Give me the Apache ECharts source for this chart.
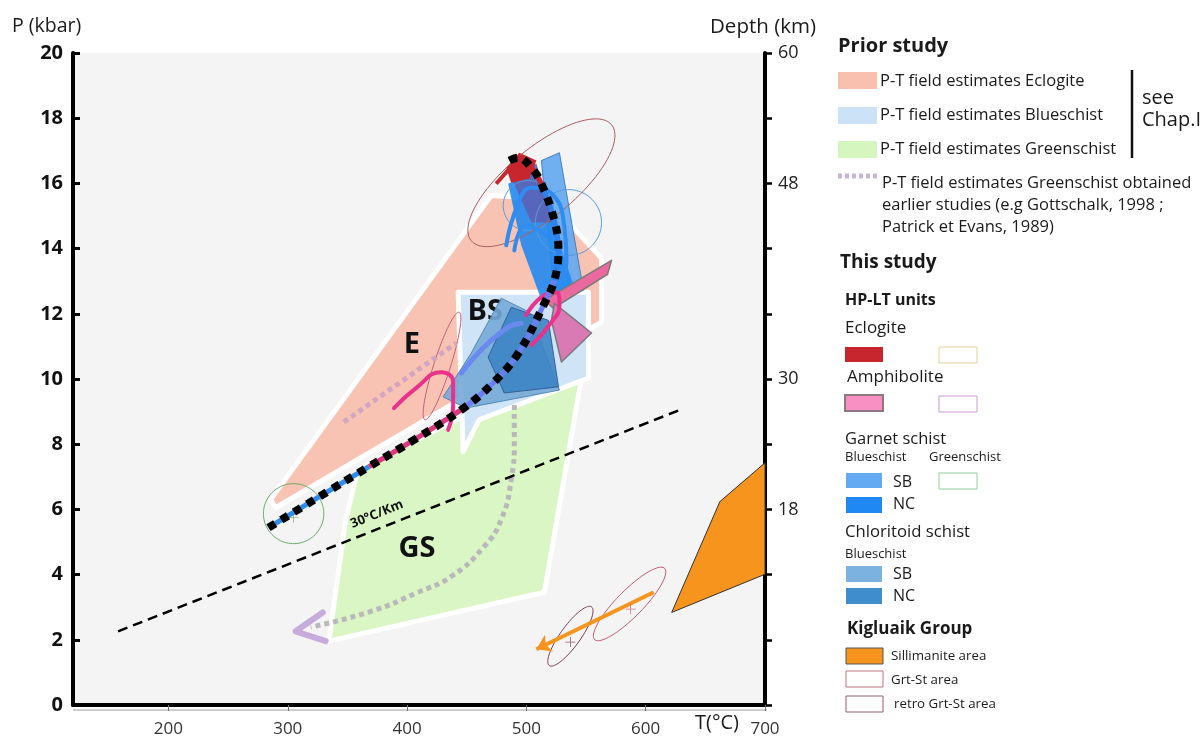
<!DOCTYPE html>
<html>
<head>
<meta charset="utf-8">
<title>P-T diagram</title>
<script src="https://cdn.jsdelivr.net/npm/echarts@6/dist/echarts.min.js"></script>
<style>
  html, body { margin: 0; padding: 0; background: #fff; }
  #chart { width: 1202px; height: 736px; }
</style>
</head>
<body>
<div id="chart"></div>
<script>
// axes
const tempTicks = [200, 300, 400, 500, 600, 700];
const depthLabels = [18, 30, 48, 60];

// prior study fields [T (°C), P (kbar)]
const eclogiteField = [[285.6, 6.30], [470.5, 15.63], [516.8, 15.53], [563.0, 13.70], [563.0, 11.74], [441.1, 9.30], [289.8, 6.05]];
const greenschistField = [[358.7, 7.22], [449.5, 8.90], [546.2, 10.03], [515.1, 3.46], [334.4, 1.96], [348.6, 5.69]];
const blueschistField = [[442.8, 12.66], [552.1, 12.66], [552.1, 10.03], [460.4, 8.75], [447.0, 7.77]];
const priorEclogitePath = [[347.0, 8.68], [441.1, 11.10]];
const priorGreenschistPath = [[489.9, 9.20], [489.9, 8.13], [487.3, 6.91], [478.9, 5.69], [464.6, 4.86], [436.9, 3.94], [409.2, 3.46], [369.7, 2.87], [319.2, 2.39]];
const priorArrowHead = [[329.3, 2.84], [306.6, 2.26], [331.8, 1.96]];

// 30 °C/km geotherm
const geotherm = [[157.8, 2.26], [628.6, 9.05]];

// this study
const chloritoidSB = [[478.9, 12.48], [502.5, 12.05], [527.7, 9.66], [449.5, 9.11], [430.2, 9.45], [453.7, 10.79]];
const chloritoidNC = [[487.3, 12.20], [518.4, 11.80], [526.9, 9.76], [481.5, 9.57], [468.0, 10.67]];
const garnetSB = [[512.6, 16.70], [527.7, 16.94], [547.9, 12.72], [523.5, 12.42]];
const garnetNC = [[484.8, 15.99], [508.4, 16.39], [539.5, 12.87], [512.6, 12.42], [495.7, 14.10]];
const garnetOverlap = [[485.7, 16.33], [508.4, 16.60], [523.5, 14.80], [504.2, 14.80]];
const eclogitePeak = [[483.1, 16.48], [494.1, 16.94], [508.4, 16.70], [502.5, 16.15], [487.3, 16.02]];
const eclogiteTail = [[474.7, 15.99], [485.7, 16.45]];
const amphiboliteBand = [[515.1, 12.42], [571.4, 13.64], [568.0, 13.21], [522.6, 12.17]];
const amphiboliteKite = [[523.5, 12.32], [554.6, 11.41], [529.4, 10.52], [521.0, 11.80]];
const amphHookE = [[389.0, 9.11], [407.5, 9.72], [428.5, 10.21], [438.6, 9.91], [438.6, 9.20], [434.4, 8.44]];
const amphHookBS = [[499.9, 11.96], [512.6, 12.51], [525.2, 12.66], [527.7, 12.26], [521.0, 11.74], [504.2, 11.04]];
const garnetPathA = [[483.1, 14.10], [493.2, 15.38], [504.2, 15.87], [521.0, 15.69], [531.9, 14.65], [533.6, 13.64], [526.9, 12.81]];
const garnetPathB = [[489.9, 13.94], [499.9, 14.71], [516.8, 14.40]];
const garnetPathBS = [[445.3, 10.18], [464.6, 10.98], [484.8, 11.59], [495.7, 11.71]];
const mainPath = [[283.9, 5.44], [325.1, 6.36], [368.0, 7.31], [405.8, 8.13], [445.3, 9.05], [470.5, 9.82], [493.2, 10.79], [515.1, 12.32], [523.5, 13.03], [526.9, 13.94], [523.5, 14.86], [512.6, 15.99], [504.2, 16.48], [493.2, 16.79], [485.7, 16.70]];

// ellipses: [centre T, centre P, axis-1 end T, P, axis-2 end T, P]
const ellipseTop = [512.6, 16.02, 571.4, 17.80, 531.1, 15.20];
const ellipseE = [429.3, 10.40, 443.6, 12.05, 436.1, 10.34];
const ellipseRetro = [536.9, 2.11, 554.6, 3.01, 543.7, 1.93];
const ellipseGrtSt = [586.5, 3.10, 615.9, 4.19, 594.1, 2.81];
const circleGreen = [304.9, 5.87, 330.2, 5.87, 304.9, 6.79];
const circleBlue1 = [535.3, 14.80, 563.0, 14.80, 535.3, 15.81];
const circleBlue2 = [501.6, 15.32, 522.6, 15.32, 501.6, 16.09];
const crossesRetro = [[536.9, 1.93]];
const crossesGrtSt = [[587.4, 2.94]];
const crossesGreen = [[304.9, 5.75]];

// Kigluaik group
const sillimanite = [[621.8, 2.84], [662.2, 6.24], [700, 7.43], [700, 4.01]];
const kigluaikPath = [[606.7, 3.46], [508.4, 1.71]];

// field labels [text, T, P]
const fieldLabels = [['E', 404.1, 11.04], ['BS', 465.5, 12.05], ['GS', 408.3, 4.80]];
const geothermLabel = [['30°C/Km', 374.7, 5.85]];

const FONT = '"Open Sans", "Noto Sans", sans-serif';

function area(pts, fill, stroke, width, opacity) {
  return {
    type: 'custom', silent: true, data: [pts[0]],
    renderItem: function (params, api) {
      return {
        type: 'polygon',
        shape: { points: pts.map(function (p) { return api.coord(p); }) },
        style: { fill: fill, stroke: stroke || 'none', lineWidth: width || 0, opacity: opacity == null ? 1 : opacity, lineJoin: 'round' }
      };
    }
  };
}

function ring(e, color, width) {
  return {
    type: 'custom', silent: true, data: [[e[0], e[1]]],
    renderItem: function (params, api) {
      const c = api.coord([e[0], e[1]]), a = api.coord([e[2], e[3]]), b = api.coord([e[4], e[5]]);
      const pts = [];
      for (let i = 0; i < 90; i++) {
        const t = i / 90 * Math.PI * 2;
        pts.push([c[0] + Math.cos(t) * (a[0] - c[0]) + Math.sin(t) * (b[0] - c[0]),
                  c[1] + Math.cos(t) * (a[1] - c[1]) + Math.sin(t) * (b[1] - c[1])]);
      }
      return { type: 'polygon', shape: { points: pts }, style: { fill: 'none', stroke: color, lineWidth: width } };
    }
  };
}

function path(pts, color, width, dash, smooth, cap) {
  return {
    type: 'line', data: pts, symbol: 'none', showSymbol: false, silent: true, smooth: smooth || false,
    lineStyle: { color: color, width: width, type: dash || 'solid', cap: cap || 'butt', join: 'round' }
  };
}

function labels(list, font, color, rotation) {
  return {
    type: 'custom', silent: true, data: list.map(function (l) { return [l[1], l[2]]; }),
    renderItem: function (params, api) {
      const l = list[params.dataIndex];
      const p = api.coord([l[1], l[2]]);
      return {
        type: 'text', x: p[0], y: p[1], rotation: rotation || 0,
        style: { text: l[0], font: font, fill: color, align: 'center', verticalAlign: 'middle', textAlign: 'center', textVerticalAlign: 'middle' }
      };
    }
  };
}

function crosses(pts, color) {
  return {
    type: 'scatter', data: pts, silent: true, symbolSize: 10,
    symbol: 'path://M4.6,0h0.8v10h-0.8zM0,4.6h10v0.8h-10z',
    itemStyle: { color: color }
  };
}

function txt(x, y, s, font, color) {
  return { type: 'text', x: x, y: y, silent: true,
    style: { text: s, font: font + ' ' + FONT, fill: color || '#1a1a1a', verticalAlign: 'middle', textVerticalAlign: 'middle' } };
}
function box(x, y, w, h, fill, stroke, lw) {
  return { type: 'rect', silent: true, shape: { x: x, y: y, width: w, height: h },
    style: { fill: fill, stroke: stroke || 'none', lineWidth: lw || 0 } };
}

const legend = [
  txt(838, 46, 'Prior study', 'bold 20px'),
  box(838, 72, 39, 17, '#f9c0b0'), txt(880, 81, 'P-T field estimates Eclogite', '16.5px'),
  box(838, 107, 39, 17, '#cce3f7'), txt(880, 115, 'P-T field estimates Blueschist', '16.5px'),
  box(838, 141, 39, 17, '#d6f6c0'), txt(880, 149, 'P-T field estimates Greenschist', '16.5px'),
  { type: 'line', silent: true, shape: { x1: 1132, y1: 70, x2: 1132, y2: 158 }, style: { stroke: '#111', lineWidth: 2.5 } },
  txt(1142, 98, 'see', '20px'), txt(1142, 120, 'Chap.I', '20px'),
  { type: 'line', silent: true, shape: { x1: 838, y1: 176, x2: 877, y2: 176 }, style: { stroke: '#cdb3de', lineWidth: 5, lineDash: [4, 3] } },
  txt(882, 183, 'P-T field estimates Greenschist obtained', '16.5px'),
  txt(882, 205, 'earlier studies (e.g Gottschalk, 1998 ;', '16.5px'),
  txt(882, 227, 'Patrick et Evans, 1989)', '16.5px'),
  txt(840, 263, 'This study', 'bold 19px'),
  txt(845, 300, 'HP-LT units', 'bold 16px'),
  txt(845, 328, 'Eclogite', '17px'),
  box(845, 347, 38, 15, '#c8262e'), box(939, 347, 38, 16, '#fff', '#e6cf98', 1),
  txt(847, 377, 'Amphibolite', '17px'),
  box(845, 395, 38, 16, '#f890c4', '#8a7a80', 2), box(939, 396, 38, 16, '#fff', '#c99ad0', 1),
  txt(845, 439, 'Garnet schist', '16.5px'),
  txt(845, 457, 'Blueschist', '13px'), txt(929, 457, 'Greenschist', '13px'),
  box(846, 473, 36, 15, '#64aaf2'), txt(893, 482, 'SB', '16px'), box(939, 473, 38, 16, '#fff', '#90d09c', 1),
  box(846, 497, 36, 16, '#1f88f2'), txt(893, 504, 'NC', '16px'),
  txt(845, 532, 'Chloritoid schist', '16.7px'),
  txt(845, 554, 'Blueschist', '13px'),
  box(846, 566, 36, 16, '#7cb2e0'), txt(893, 574, 'SB', '16px'),
  box(846, 588, 36, 16, '#3f8dcc'), txt(893, 596, 'NC', '16px'),
  txt(847, 629, 'Kigluaik Group', 'bold 17px'),
  box(846, 648, 37, 16, '#f7941d', '#555', 1), txt(891, 656, 'Sillimanite area', '13.3px'),
  box(846, 671, 37, 16, '#fff', '#c07474', 1), txt(891, 680, 'Grt-St area', '13.3px'),
  box(846, 696, 37, 16, '#fff', '#a05a6a', 1), txt(894, 704, 'retro Grt-St area', '13.3px'),
  // axis titles
  txt(12, 26, 'P (kbar)', '19.5px'),
  txt(710, 27, 'Depth (km)', '20.5px'),
  txt(695, 723, 'T(°C)', '20px'),
  { type: 'line', silent: true, shape: { x1: 73, y1: 710, x2: 767, y2: 710 }, style: { stroke: '#999', lineWidth: 1 } }
];

const chart = echarts.init(document.getElementById('chart'));
chart.setOption({
  animation: false,
  backgroundColor: '#fff',
  grid: { left: 73, right: 437, top: 53, bottom: 31, show: true, backgroundColor: '#f4f4f4', borderWidth: 0, containLabel: false, outerBoundsMode: 'none' },
  xAxis: {
    type: 'value', min: 120, max: 700,
    axisLine: { show: true, lineStyle: { color: '#000', width: 4 } },
    axisTick: { show: true, customValues: tempTicks, length: 6, lineStyle: { color: '#777', width: 1 } },
    axisLabel: { customValues: tempTicks, fontSize: 17, color: '#333', margin: 16, fontFamily: FONT },
    splitLine: { show: false }
  },
  yAxis: [{
    type: 'value', min: 0, max: 20, interval: 2, position: 'left',
    axisLine: { show: true, lineStyle: { color: '#000', width: 4 } },
    axisTick: { show: true, inside: true, length: 7, lineStyle: { color: '#000', width: 3 } },
    axisLabel: { fontSize: 20, fontWeight: 'bold', color: '#111', margin: 10, fontFamily: FONT },
    splitLine: { show: false }
  }, {
    type: 'value', min: 0, max: 60, interval: 6, position: 'right',
    axisLine: { show: true, lineStyle: { color: '#000', width: 4 } },
    axisTick: { show: true, length: 7, lineStyle: { color: '#000', width: 2.5 } },
    axisLabel: { fontSize: 18, color: '#222', margin: 13, fontFamily: FONT,
      formatter: function (v) { return depthLabels.indexOf(v) >= 0 ? String(v) : ''; } },
    splitLine: { show: false }
  }],
  graphic: legend,
  series: [
    area(eclogiteField, '#f9c3b3', '#fff', 5),
    area(greenschistField, '#d9f6c4', '#fff', 5),
    area(blueschistField, '#cfe4f6', '#fff', 5),
    path(priorEclogitePath, '#d2a6c2', 5, [5, 4]),
    path(priorGreenschistPath, '#b9b9b9', 5, [5, 4], 0.5),
    path(priorArrowHead, '#c6acdc', 6, 'solid', false, 'round'),
    path(geotherm, '#000', 2.5, [10, 6]),
    labels(fieldLabels, 'bold 29px ' + FONT, '#111'),
    area(chloritoidSB, '#74aad8', '#4d7fae', 1, 0.9),
    area(chloritoidNC, '#3d84c4', '#2c5d8f', 1, 0.9),
    ring(ellipseE, '#c0607a', 1),
    area(garnetSB, '#62a8ef', '#3f78b8', 1, 0.9),
    area(garnetNC, '#2289f0', 'none', 0, 0.9),
    area(garnetOverlap, '#5b62b5', 'none', 0, 0.9),
    ring(circleBlue1, '#5a9ad8', 1),
    ring(circleBlue2, '#5a9ad8', 1),
    area(eclogitePeak, '#c8262e'),
    path(eclogiteTail, '#c8262e', 4),
    ring(ellipseTop, '#a86060', 1),
    area(amphiboliteBand, '#ea6aa0', '#7a7a7a', 1.5),
    area(amphiboliteKite, '#d97ab5', '#7a7a7a', 1.5),
    path(amphHookE, '#e8328c', 4, 'solid', 0.5, 'round'),
    path(amphHookBS, '#e8328c', 4, 'solid', 0.5, 'round'),
    path(garnetPathA, '#2f8cf0', 4, 'solid', 0.5, 'round'),
    path(garnetPathB, '#2f8cf0', 4, 'solid', 0.5, 'round'),
    path(garnetPathBS, '#6b8af0', 5, 'solid', 0.4, 'round'),
    path(mainPath.slice(0, 3), '#2e8de8', 5, 'solid', 0.4),
    path(mainPath.slice(2, 5), '#e0357f', 5, 'solid', 0.4),
    path(mainPath.slice(4, 9), '#6b7ff0', 5, 'solid', 0.4),
    path(mainPath.slice(8, 12), '#3080e8', 5, 'solid', 0.4),
    path(mainPath.slice(11), '#c8262e', 5, 'solid', 0.4),
    path(mainPath, '#000', 8, [8, 7], 0.4),
    ring(ellipseRetro, '#7a3a50', 1),
    ring(ellipseGrtSt, '#c05a70', 1),
    ring(circleGreen, '#6aaa6a', 1),
    crosses(crossesRetro, '#7a3a50'),
    crosses(crossesGrtSt, '#c05a70'),
    crosses(crossesGreen, '#6aaa6a'),
    area(sillimanite, '#f7941d', '#333', 1),
    {
      type: 'lines', coordinateSystem: 'cartesian2d', silent: true,
      data: [{ coords: kigluaikPath }],
      symbol: ['none', 'arrow'], symbolSize: [8, 14],
      lineStyle: { color: '#f7941d', width: 4, opacity: 1 }
    },
    labels(geothermLabel, 'bold 13px ' + FONT, '#111', 22 * Math.PI / 180)
  ]
});
</script>
</body>
</html>
